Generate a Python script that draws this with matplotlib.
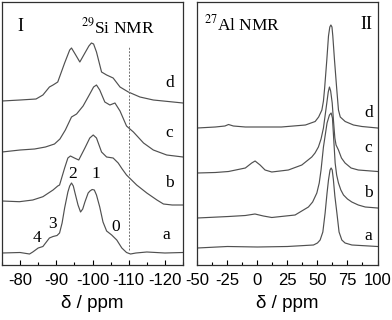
import numpy as np
import matplotlib
matplotlib.use("Agg")
import matplotlib.pyplot as plt

plt.rcParams['font.family'] = ['Liberation Sans', 'DejaVu Sans']
plt.rcParams['axes.unicode_minus'] = False
plt.rcParams['mathtext.fontset'] = 'stix'

# ---- 29Si NMR (panel I), ppm / intensity ----
si_a_ppm = [-75, -80, -82.6, -83.5, -85, -86.3, -88.1, -89.1, -90.2, -90.9, -91.6, -92.3, -93.2,
            -93.7, -94.2, -94.7, -95.1, -96.0, -96.7, -97.3, -97.9, -98.8, -99.3, -99.9, -100.5,
            -101.1, -102.0, -102.9, -103.9, -105.3, -106.7, -108.1, -109.4, -110.5, -112, -115,
            -120, -125]
si_a_int = [0, 0.5, -1, 1, 5, 6.5, 15, 16.5, 17.5, 20, 30, 45, 61,
            67, 70, 67, 61, 48, 41, 44, 51, 60, 62, 63.5, 63,
            58, 46, 31, 22, 18, 13, 5, 0.5, -1, 0, 1,
            0, 0.5]

si_b_ppm = [-75, -79.8, -83.5, -86.3, -89.1, -90.4, -90.9, -92.3, -93.2, -93.9, -95.0, -96.2,
            -97.9, -99.25, -100.2, -101.1, -102.5, -103.9, -105.7, -107.1, -108.2, -109.4,
            -110.8, -112.2, -113.6, -115, -117.8, -119.6, -122, -125]
si_b_int = [2, 1.3, 3, 6.3, 13, 17, 18, 35, 45, 47, 45, 43,
            55, 65, 68, 65, 51, 46, 45, 40, 34, 28,
            23, 18, 14, 10, 3, -1, -2, -2]

si_c_ppm = [-75, -80, -84, -87, -89.5, -91, -92.5, -94.2, -95.6, -97.4, -99.25, -100.3, -101.1,
            -102, -103.4, -104.8, -106.2, -107.6, -109.4, -111.3, -114.1, -116.8, -120.5, -125]
si_c_int = [0, 2, 3, 5, 8, 13, 22, 35, 38, 46, 58, 65, 67,
            62, 50, 47, 49, 41, 26, 20, 9, 2, -3, -5]

si_d_ppm = [-75, -80, -84.4, -86.3, -88.1, -89.1, -90.4, -92.3, -93.7, -94.2, -95.2, -96.5,
            -97.9, -99.0, -99.7, -100.3, -101.1, -102.5, -103.9, -105.7, -107.6, -109.9, -113.1,
            -116.8, -125]
si_d_int = [0, 1, 2, 6, 14, 16, 19, 38, 51, 53, 47, 39,
            48, 55, 58, 57, 49, 29, 26, 23, 14, 9, 4,
            1, -2]

si_offsets = [12, 62, 113, 164]

# ---- 27Al NMR (panel II) ----
al_a_ppm = [-50, -25, 0, 25, 46.7, 50, 52.25, 54.5, 56.4, 58, 59.2, 60.5, 61.4, 62.3, 63.3,
            64.5, 66.2, 68, 70.3, 73, 78.7, 100]
al_a_int = [0, 1.5, 1, 1.5, 3, 5, 8, 16, 35, 55, 68, 78, 80, 78, 68,
            52, 35, 16, 8, 5, 3, 1.5]

al_b_ppm = [-50, -24, -10, -2, 5, 12, 31.4, 42.5, 46, 49.5, 51.5, 53, 55, 58, 60, 61.4,
            62.5, 63.5, 64.75, 66, 67.5, 69.5, 71.7, 75, 78.6, 84, 89.8, 100]
al_b_int = [0, 1.5, 2.5, 4, 2, 0.5, 3, 11, 16, 25, 35, 48, 71, 95, 103, 105,
            100, 80, 55, 43, 35, 28, 23, 19, 16, 13, 11, 10]

al_c_ppm = [-50, -35, -24, -10, -4.7, -1.9, 2.25, 6.4, 12, 25.8, 37, 45.3, 48, 50.8,
            53, 55, 57.8, 59, 60, 61, 62.3, 63.5, 64.5, 65.5, 67.5, 70, 73, 78, 84, 100]
al_c_int = [0, 0.5, 1.5, 5, 10, 12, 8, 3, 1, 3, 8, 16, 20, 26,
            34, 45, 70, 81, 86, 82, 70, 50, 35, 28, 23, 15, 10, 5, 3, 1.5]

al_d_ppm = [-50, -35, -27, -24, -20, -10, 20, 40, 48.1, 51, 53.7, 55, 56, 57.8, 59.2, 60.3,
            61.2, 62.1, 62.8, 64.2, 66, 67.5, 69, 73.1, 80, 87, 100]
al_d_int = [0, 1, 2, 3.5, 2, 1, 1, 3, 6.5, 11, 18, 27, 40, 68, 92, 101,
            103, 101, 92, 68, 40, 18, 11, 6.5, 3, 1.5, 0]

al_offsets = [17, 47, 92, 137]

trace_labels = ['a', 'b', 'c', 'd']
si_peak_labels = ['4', '3', '2', '1', '0']
si_peak_ppm = [-84.7, -88.9, -94.4, -100.8, -106.5]
si_peak_y = [27, 41, 91, 91, 38]

line_col = '#505050'
serif = ['Liberation Serif', 'DejaVu Serif']

fig = plt.figure(figsize=(3.92, 3.20), dpi=100)
ax1 = fig.add_axes([2 / 392, 55 / 320, 181 / 392, 263 / 320])
ax2 = fig.add_axes([197.3 / 392, 55 / 320, 180.2 / 392, 263 / 320])

si = [(si_a_ppm, si_a_int), (si_b_ppm, si_b_int), (si_c_ppm, si_c_int), (si_d_ppm, si_d_int)]
al = [(al_a_ppm, al_a_int), (al_b_ppm, al_b_int), (al_c_ppm, al_c_int), (al_d_ppm, al_d_int)]

for (x, y), off in zip(si, si_offsets):
    ax1.plot(x, np.array(y) + off, color=line_col, lw=0.85)
for (x, y), off in zip(al, al_offsets):
    ax2.plot(x, np.array(y) + off, color=line_col, lw=0.85)

ax1.axvline(-110, ymin=15 / 263, ymax=219 / 263, color='#707070', ls=(0, (2, 1.5)), lw=0.7)

ax1.set_xlim(-75, -125)
ax2.set_xlim(-50, 100)
for ax in (ax1, ax2):
    ax.set_ylim(0, 263)
    ax.set_yticks([])
    ax.tick_params(axis='x', which='major', direction='in', length=3.6, width=0.8,
                   pad=6, labelsize=12)
    ax.tick_params(axis='x', which='minor', direction='in', length=2, width=0.8)
    ax.set_xlabel('δ / ppm', fontsize=13.5, labelpad=5)
    for s in ax.spines.values():
        s.set_linewidth(0.9)
        s.set_color('#303030')

ax1.set_xticks([-80, -90, -100, -110, -120])
ax1.set_xticks(np.arange(-75, -126, -5), minor=True)
ax2.set_xticks([-50, -25, 0, 25, 50, 75, 100])
ax2.set_xticks(np.arange(-50, 101, 12.5), minor=True)

ax1.text(0.099, 0.907, 'I', transform=ax1.transAxes, ha='center', va='center',
         fontsize=13, family=serif)
ax1.text(0.638, 0.905, r'$^{29}$Si NMR', transform=ax1.transAxes, ha='center', va='center',
         fontsize=12.5, family=serif)
ax2.text(0.247, 0.915, r'$^{27}$Al NMR', transform=ax2.transAxes, ha='center', va='center',
         fontsize=12.5, family=serif)
ax2.text(0.937, 0.915, 'II', transform=ax2.transAxes, ha='center', va='center',
         fontsize=13, family=serif)

si_lab_pos = [(0.91, 0.114), (0.925, 0.311), (0.925, 0.503), (0.925, 0.692)]
al_lab_pos = [(0.95, 0.11), (0.95, 0.273), (0.95, 0.444), (0.95, 0.577)]
for lab, p in zip(trace_labels, si_lab_pos):
    ax1.text(p[0], p[1], lab, transform=ax1.transAxes, ha='center', va='center',
             fontsize=12.5, family=serif)
for lab, p in zip(trace_labels, al_lab_pos):
    ax2.text(p[0], p[1], lab, transform=ax2.transAxes, ha='center', va='center',
             fontsize=12.5, family=serif)
for lab, xp, yp in zip(si_peak_labels, si_peak_ppm, si_peak_y):
    ax1.text(xp, yp, lab, ha='center', va='center', fontsize=12.5, family=serif)

fig.savefig('out.png', dpi=100)
